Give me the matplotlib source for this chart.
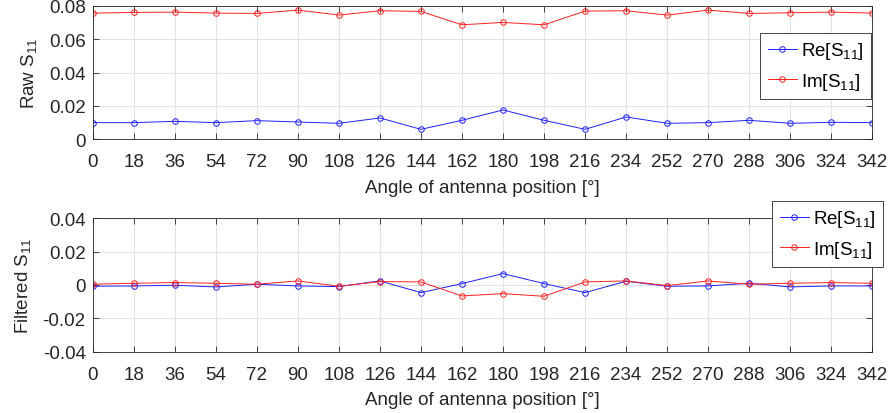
import numpy as np
import matplotlib
matplotlib.use("Agg")
import matplotlib.pyplot as plt

plt.rcParams['font.family'] = ['Liberation Sans', 'DejaVu Sans']
plt.rcParams['mathtext.default'] = 'regular'
plt.rcParams['axes.unicode_minus'] = False

# antenna angles
angles = np.arange(0, 360, 18)

raw_re = [0.0100, 0.0100, 0.0108, 0.0100, 0.0112, 0.0104, 0.0096, 0.0128, 0.0060, 0.0114,
          0.0176, 0.0114, 0.0060, 0.0134, 0.0096, 0.0100, 0.0114, 0.0096, 0.0102, 0.0100]
raw_im = [0.0756, 0.0760, 0.0762, 0.0756, 0.0754, 0.0774, 0.0744, 0.0770, 0.0766, 0.0686,
          0.0700, 0.0686, 0.0768, 0.0770, 0.0744, 0.0774, 0.0754, 0.0758, 0.0762, 0.0756]
filt_re = [-0.0008, -0.0006, -0.0002, -0.0012, 0.0004, -0.0006, -0.0010, 0.0024, -0.0046, 0.0008,
           0.0068, 0.0008, -0.0046, 0.0022, -0.0008, -0.0006, 0.0010, -0.0012, -0.0006, -0.0006]
filt_im = [0.0004, 0.0010, 0.0014, 0.0010, 0.0004, 0.0024, -0.0008, 0.0020, 0.0018, -0.0066,
           -0.0052, -0.0068, 0.0018, 0.0024, -0.0004, 0.0024, 0.0004, 0.0010, 0.0014, 0.0010]

txt = '#262626'
blue = '#2020ff'
red = '#ff2020'
fs = 13.5

fig = plt.figure(figsize=(8.91, 4.14), dpi=100)
ax1 = fig.add_axes([0.104, 0.661, 0.875, 0.3227])
ax2 = fig.add_axes([0.104, 0.148, 0.875, 0.3227])


def style(ax, yticks, ylabels, ylabel):
    ax.set_xlim(0, 342)
    ax.set_xticks(angles)
    ax.set_yticks(yticks)
    ax.set_yticklabels(ylabels)
    ax.set_ylim(yticks[0], yticks[-1])
    ax.grid(True, color='#e3e3e3', linewidth=0.8)
    ax.set_axisbelow(True)
    ax.tick_params(direction='in', length=4, width=0.6, colors=txt, labelsize=fs,
                   top=True, right=True, labeltop=False, labelright=False)
    ax.tick_params(axis='x', pad=10)
    ax.tick_params(axis='y', pad=5)
    for s in ax.spines.values():
        s.set_color(txt)
        s.set_linewidth(0.6)
    ax.set_xlabel('Angle of antenna position [°]', fontsize=fs, color=txt, labelpad=6)
    ax.set_ylabel(ylabel, fontsize=fs, color=txt, labelpad=7)


def legend(ax, x, y):
    leg = ax.legend(loc='upper right', bbox_to_anchor=(x / 891, 1 - y / 414),
                    bbox_transform=fig.transFigure, fontsize=fs, fancybox=False,
                    edgecolor=txt, framealpha=1, borderpad=0.4, handlelength=1.55,
                    handletextpad=0.2, labelspacing=0.5, borderaxespad=0)
    leg.get_frame().set_linewidth(0.6)
    for t in leg.get_texts():
        t.set_color('black')


ax1.plot(angles, raw_re, '-o', color=blue, lw=0.7, ms=4, mfc='none', mew=0.7, label='Re[S$_{11}$]')
ax1.plot(angles, raw_im, '-o', color=red, lw=0.7, ms=4, mfc='none', mew=0.7, label='Im[S$_{11}$]')
style(ax1, [0, 0.02, 0.04, 0.06, 0.08], ['0', '0.02', '0.04', '0.06', '0.08'], 'Raw S$_{11}$')
legend(ax1, 871, 34)

ax2.plot(angles, filt_re, '-o', color=blue, lw=0.7, ms=4, mfc='none', mew=0.7, label='Re[S$_{11}$]')
ax2.plot(angles, filt_im, '-o', color=red, lw=0.7, ms=4, mfc='none', mew=0.7, label='Im[S$_{11}$]')
style(ax2, [-0.04, -0.02, 0, 0.02, 0.04], ['-0.04', '-0.02', '0', '0.02', '0.04'], 'Filtered S$_{11}$')
legend(ax2, 883, 202)

fig.savefig('out.png', dpi=100)
